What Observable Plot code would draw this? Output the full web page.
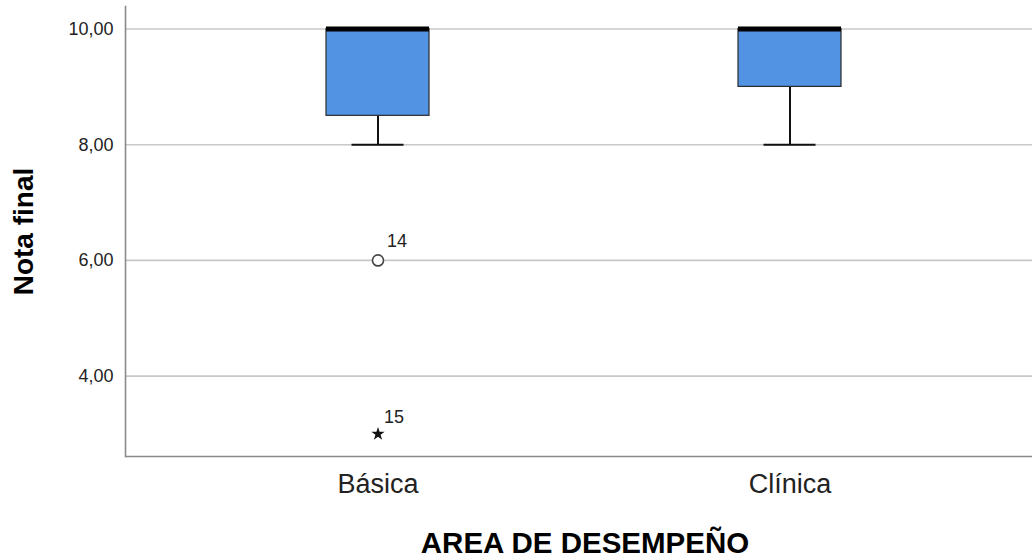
<!DOCTYPE html>
<html>
<head>
<meta charset="utf-8">
<script src="https://cdn.jsdelivr.net/npm/d3@7"></script>
<script src="https://cdn.jsdelivr.net/npm/@observablehq/plot@0.6"></script>
<style>
  html, body { margin: 0; padding: 0; background: #fff; }
  #chart { width: 1032px; height: 560px; overflow: hidden; }
</style>
</head>
<body>
<div id="chart"></div>
<script>
// Data
const categories = ["Básica", "Clínica"];
const q1 = [8.5, 9];
const median = [10, 10];
const q3 = [10, 10];
const whiskerLow = [8, 8];
const whiskerHigh = [10, 10];
const outlierCategory = ["Básica", "Básica"];
const outlierValue = [6, 3];
const outlierId = ["14", "15"];
const outlierKind = ["circle", "star"]; // circle = outlier, star = extreme
const yTicks = [4, 6, 8, 10];
const yDomain = [2.61, 10.39];

const boxes = categories.map((c, i) => ({
  cat: c, q1: q1[i], med: median[i], q3: q3[i], lo: whiskerLow[i], hi: whiskerHigh[i]
}));
const outliers = outlierValue.map((v, i) => ({
  cat: outlierCategory[i], v, id: outlierId[i], kind: outlierKind[i]
}));
const circles = outliers.filter(d => d.kind === "circle");
const stars = outliers.filter(d => d.kind === "star");

const font = "'Liberation Sans', Arial, sans-serif";

const chart = Plot.plot({
  width: 1032,
  height: 560,
  marginTop: 6,
  marginBottom: 104,
  marginLeft: 125,
  marginRight: 0,
  style: { fontFamily: font, background: "#fff", overflow: "hidden" },
  x: { type: "band", domain: categories, range: [125, 1042], paddingInner: 0.75, paddingOuter: 0.487, align: 0.5 },
  y: { domain: yDomain },
  marks: [
    Plot.ruleY(yTicks, { stroke: "#c8c8c8", strokeWidth: 1.6 }),
    Plot.ruleY([yDomain[0]], { stroke: "#8a8a8a", strokeWidth: 1.6 }),
    Plot.frame({ anchor: "left", stroke: "#8a8a8a", strokeWidth: 1.6 }),
    // whiskers
    Plot.ruleX(boxes, { x: "cat", y1: "lo", y2: "q1", stroke: "#111", strokeWidth: 2 }),
    Plot.ruleX(boxes, { x: "cat", y1: "q3", y2: "hi", stroke: "#111", strokeWidth: 2 }),
    Plot.tickY(boxes, { x: "cat", y: "lo", stroke: "#111", strokeWidth: 2.2, insetLeft: 25.5, insetRight: 25.5 }),
    Plot.tickY(boxes, { x: "cat", y: "hi", stroke: "#111", strokeWidth: 2.2, insetLeft: 25.5, insetRight: 25.5 }),
    // boxes
    Plot.barY(boxes, { x: "cat", y1: "q1", y2: "q3", fill: "#5393e3", stroke: "#2a2a2a", strokeWidth: 1.2 }),
    // medians
    Plot.tickY(boxes, { x: "cat", y: "med", stroke: "#000", strokeWidth: 5 }),
    // outliers
    Plot.dot(circles, { x: "cat", y: "v", r: 5.5, stroke: "#444", strokeWidth: 1.6, fill: "#fff" }),
    Plot.dot(stars, { x: "cat", y: "v", r: 4.2, symbol: "star", fill: "#111", stroke: "none" }),
    Plot.text(circles, { x: "cat", y: "v", text: "id", dx: 9, dy: -19, textAnchor: "start", fontSize: 18, fill: "#222" }),
    Plot.text(stars, { x: "cat", y: "v", text: "id", dx: 6, dy: -17, textAnchor: "start", fontSize: 18, fill: "#222" }),
    // axes
    Plot.axisY({
      ticks: yTicks, tickSize: 0, tickPadding: 12, fontSize: 18, fill: "#222",
      tickFormat: d => d.toFixed(2).replace(".", ","), label: null
    }),
    Plot.axisX({ tickSize: 0, tickPadding: 17, fontSize: 27, fill: "#222", label: null }),
    // axis titles
    Plot.text(["Nota final"], {
      frameAnchor: "left", textAnchor: "middle", rotate: -90, dx: -101, fontSize: 28, fontWeight: "bold", fill: "#000"
    }),
    Plot.text(["AREA DE DESEMPEÑO"], {
      frameAnchor: "bottom", lineAnchor: "bottom", dx: 6, dy: 96, fontSize: 29.5, fontWeight: "bold", fill: "#000"
    })
  ]
});
document.getElementById("chart").appendChild(chart);
</script>
</body>
</html>
